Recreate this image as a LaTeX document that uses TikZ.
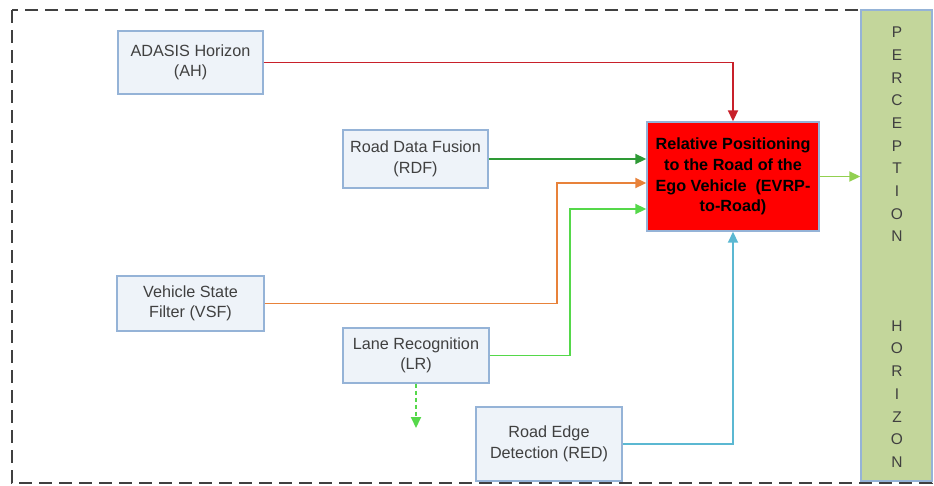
\documentclass[tikz,border=0pt]{standalone}
\usepackage{fontspec}
\setmainfont{Liberation Sans}
\usetikzlibrary{arrows.meta}
\definecolor{boxfill}{HTML}{EEF3F9}
\definecolor{boxline}{HTML}{95B3D7}
\definecolor{txtgray}{HTML}{404040}
\definecolor{bandfill}{HTML}{C3D69B}
\definecolor{lnred}{HTML}{C8202A}
\definecolor{lndkgreen}{HTML}{2E9A35}
\definecolor{lnorange}{HTML}{E8823A}
\definecolor{lnltgreen}{HTML}{55D84A}
\definecolor{lnblue}{HTML}{5BB8D2}
\definecolor{lnband}{HTML}{92D050}
\tikzset{
  modbox/.style={draw=boxline, line width=1.4pt, fill=boxfill, align=center,
    text=txtgray, font=\fontsize{16.2}{20.5}\selectfont, inner sep=2pt},
  mainbox/.style={draw=boxline, line width=1.4pt, fill=red, align=center,
    text=black, font=\bfseries\fontsize{16.2}{20.7}\selectfont, inner sep=2pt},
  flow/.style={line width=1.9pt, -{Triangle[length=11pt,width=10pt]}},
  bandtxt/.style={align=center, text=txtgray, font=\fontsize{15.5}{22.7}\selectfont}
}
\begin{document}
\begin{tikzpicture}[x=1pt,y=-1pt]
\useasboundingbox (0,0) rectangle (934,485);
% outer dashed frame
\draw[color=txtgray, line width=2.2pt, dash pattern=on 13pt off 7pt] (12,10) rectangle (932,483);
% perception horizon band
\node[draw=boxline, line width=1.4pt, fill=bandfill, minimum width=71pt, minimum height=471pt, inner sep=0pt] (band) at (896.5,245.5) {};
\node[bandtxt] (bandtop) at (897,134.5) {P\\E\\R\\C\\E\\P\\T\\I\\O\\N};
\node[bandtxt] (bandbot) at (897,394) {H\\O\\R\\I\\Z\\O\\N};
% modules
\node[modbox, minimum width=145pt, minimum height=63pt] (AH) at (190.5,62.5) {ADASIS Horizon\\(AH)};
\node[modbox, minimum width=145pt, minimum height=58pt] (RDF) at (415.5,159) {Road Data Fusion\\(RDF)};
\node[mainbox, minimum width=172pt, minimum height=109pt] (EVRP) at (733,176.5) {Relative Positioning\\to the Road of the\\Ego Vehicle\ \ (EVRP-\\to-Road)};
\node[modbox, minimum width=147pt, minimum height=55pt] (VSF) at (190.5,303.5) {Vehicle State\\Filter (VSF)};
\node[modbox, minimum width=146pt, minimum height=55pt] (LR) at (416,355.5) {Lane Recognition\\(LR)};
\node[modbox, minimum width=146pt, minimum height=74pt] (RED) at (549,444) {Road Edge\\Detection (RED)};
% bend points
\coordinate (vsfbend) at (557,183);
\coordinate (lrbend) at (570,209);
\coordinate (lrdown) at (416,428);
% connectors
\draw[flow, lnred] (AH.east) -| (EVRP.north);
\draw[flow, lndkgreen] (RDF.east) -- (RDF.east -| EVRP.west);
\draw[flow, lnorange] (VSF.east) -| (vsfbend) -- (vsfbend -| EVRP.west);
\draw[flow, lnltgreen] (LR.east) -| (lrbend) -- (lrbend -| EVRP.west);
\draw[flow, lnblue] (RED.east) -| (EVRP.south);
\draw[flow, lnltgreen, dash pattern=on 4pt off 3pt] (LR.south) -- (lrdown);
\draw[flow, lnband] (EVRP.east) -- (EVRP.east -| band.west);
\end{tikzpicture}
\end{document}
